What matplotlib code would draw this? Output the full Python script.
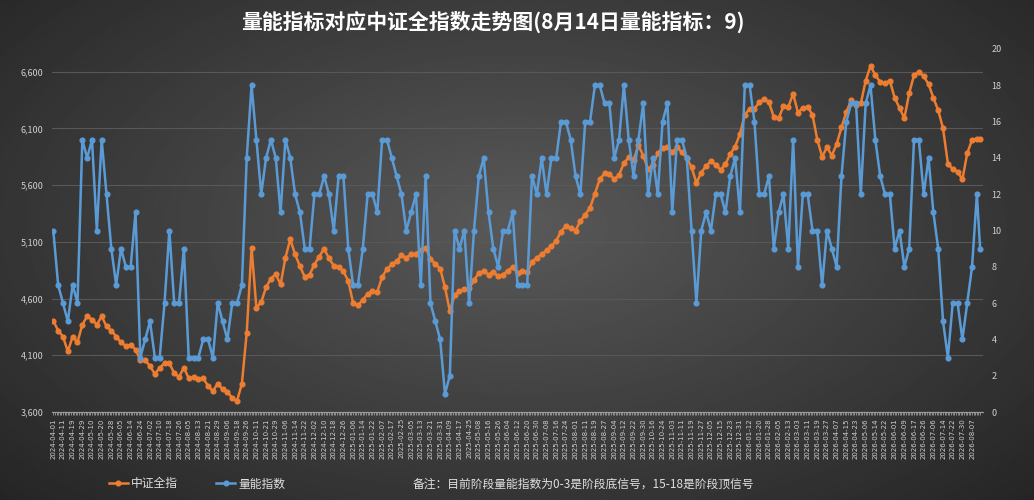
import numpy as np
import matplotlib
matplotlib.use("Agg")
import matplotlib.pyplot as plt
from matplotlib.lines import Line2D

plt.rcParams['font.family'] = ['Noto Sans CJK SC', 'DejaVu Sans']

# trading-day number of each reading (read every 3rd day, plus the last day)
day_no = list(range(0, 576, 3)) + [575]

# 中证全指 (left axis)
csi_all = [
    4405, 4317, 4265, 4134, 4265, 4215, 4370, 4444, 4415, 4370,
    4444, 4355, 4318, 4265, 4215, 4180, 4193, 4150, 4060, 4055,
    4005, 3935, 3990, 4030, 4030, 3942, 3910, 3990, 3898, 3905,
    3890, 3898, 3830, 3785, 3850, 3800, 3780, 3721, 3700, 3850,
    4300, 5048, 4517, 4570, 4700, 4775, 4815, 4724, 4960, 5122,
    4990, 4886, 4790, 4812, 4900, 4970, 5040, 4955, 4890, 4875,
    4842, 4753, 4562, 4540, 4590, 4640, 4665, 4660, 4790, 4860,
    4901, 4930, 4980, 4960, 4989, 4995, 5030, 5050, 4950, 4905,
    4865, 4700, 4488, 4635, 4665, 4680, 4690, 4760, 4827, 4842,
    4812, 4835, 4795, 4812, 4845, 4880, 4825, 4842, 4830, 4925,
    4960, 4990, 5025, 5060, 5110, 5190, 5240, 5225, 5200, 5284,
    5340, 5400, 5525, 5650, 5705, 5700, 5650, 5690, 5795, 5845,
    5820, 5950, 5860, 5740, 5780, 5880, 5930, 5933, 5890, 5933,
    5890, 5840, 5756, 5620, 5710, 5770, 5810, 5780, 5735, 5786,
    5875, 5940, 6051, 6220, 6273, 6273, 6330, 6360, 6330, 6200,
    6190, 6295, 6290, 6405, 6240, 6280, 6290, 6220, 6000, 5850,
    5935, 5860, 5963, 6110, 6245, 6347, 6310, 6320, 6520, 6650,
    6570, 6510, 6500, 6520, 6370, 6280, 6190, 6410, 6570, 6600,
    6560, 6490, 6370, 6260, 6100, 5790, 5740, 5720, 5650, 5880,
    6000, 6010,
    6007,
]

# 量能指数 (right axis)
volume_idx = [
    10, 7, 6, 5, 7, 6, 15, 14, 15, 10,
    15, 12, 9, 7, 9, 8, 8, 11, 3, 4,
    5, 3, 3, 6, 10, 6, 6, 9, 3, 3,
    3, 4, 4, 3, 6, 5, 4, 6, 6, 7,
    14, 18, 15, 12, 14, 15, 14, 11, 15, 14,
    12, 11, 9, 9, 12, 12, 13, 12, 10, 13,
    13, 9, 7, 7, 9, 12, 12, 11, 15, 15,
    14, 13, 12, 10, 11, 12, 7, 13, 6, 5,
    4, 1, 2, 10, 9, 10, 6, 10, 13, 14,
    11, 9, 8, 10, 10, 11, 7, 7, 7, 13,
    12, 14, 12, 14, 14, 16, 16, 15, 13, 12,
    16, 16, 18, 18, 17, 17, 14, 15, 18, 15,
    13, 15, 17, 12, 14, 12, 16, 17, 11, 15,
    15, 14, 10, 6, 10, 11, 10, 12, 12, 11,
    13, 14, 11, 18, 18, 16, 12, 12, 13, 9,
    11, 12, 9, 15, 8, 12, 12, 10, 10, 7,
    10, 9, 8, 13, 16, 17, 17, 12, 17, 18,
    15, 13, 12, 12, 9, 10, 8, 9, 15, 15,
    12, 14, 11, 9, 5, 3, 6, 6, 4, 6,
    8, 12,
    9,
]

# date labels, one every 6 trading days
x_labels = [
    '2024-04-01', '2024-04-11', '2024-04-19', '2024-04-29', '2024-05-10', '2024-05-20',
    '2024-05-28', '2024-06-05', '2024-06-14', '2024-06-24', '2024-07-02', '2024-07-10',
    '2024-07-18', '2024-07-26', '2024-08-05', '2024-08-13', '2024-08-21', '2024-08-29',
    '2024-09-06', '2024-09-18', '2024-09-26', '2024-10-11', '2024-10-21', '2024-10-29',
    '2024-11-06', '2024-11-14', '2024-11-22', '2024-12-02', '2024-12-10', '2024-12-18',
    '2024-12-26', '2025-01-06', '2025-01-14', '2025-01-22', '2025-02-07', '2025-02-17',
    '2025-02-25', '2025-03-05', '2025-03-13', '2025-03-21', '2025-03-31', '2025-04-09',
    '2025-04-17', '2025-04-25', '2025-05-08', '2025-05-16', '2025-05-26', '2025-06-04',
    '2025-06-12', '2025-06-20', '2025-06-30', '2025-07-08', '2025-07-16', '2025-07-24',
    '2025-08-01', '2025-08-11', '2025-08-19', '2025-08-27', '2025-09-04', '2025-09-12',
    '2025-09-22', '2025-09-30', '2025-10-16', '2025-10-24', '2025-11-03', '2025-11-11',
    '2025-11-19', '2025-11-27', '2025-12-05', '2025-12-15', '2025-12-23', '2025-12-31',
    '2026-01-12', '2026-01-20', '2026-01-28', '2026-02-05', '2026-02-13', '2026-03-03',
    '2026-03-11', '2026-03-19', '2026-03-27', '2026-04-07', '2026-04-15', '2026-04-23',
    '2026-05-06', '2026-05-14', '2026-05-22', '2026-06-01', '2026-06-09', '2026-06-17',
    '2026-06-26', '2026-07-06', '2026-07-14', '2026-07-22', '2026-07-30', '2026-08-07',
]

left_ticks = [3600, 4100, 4600, 5100, 5600, 6100, 6600]
right_ticks = [0, 2, 4, 6, 8, 10, 12, 14, 16, 18, 20]

title = '量能指标对应中证全指数走势图(8月14日量能指标：9)'
note = '备注：目前阶段量能指数为0-3是阶段底信号，15-18是阶段顶信号'

orange = '#ED7D31'
blue = '#5B9BD5'
txt = '#d0d0d0'

fig = plt.figure(figsize=(10.34, 5.0), dpi=100)

# dark radial background
bg = fig.add_axes([0, 0, 1, 1], zorder=-10)
yy, xx = np.mgrid[0:1:300j, 0:1:600j]
r = np.sqrt(((xx - 0.5) / 0.75) ** 2 + ((yy - 0.45) / 0.85) ** 2)
shade = np.clip(0.35 - 0.22 * r, 0.13, 0.4)
bg.imshow(shade, cmap='gray', vmin=0, vmax=1, aspect='auto', extent=[0, 1, 0, 1])
bg.axis('off')

ax = fig.add_axes([0.050, 0.176, 0.901, 0.726])
ax.set_facecolor('none')
ax2 = ax.twinx()

ax.plot(day_no, csi_all, color=orange, lw=1.8, marker='o', ms=3.4, zorder=3)
ax2.plot(day_no, volume_idx, color=blue, lw=1.8, marker='o', ms=3.4, zorder=3)

ax.set_xlim(-1, 577)
ax.set_ylim(3600, 6800)
ax2.set_ylim(0, 20)
ax.set_yticks(left_ticks)
ax.set_yticklabels([f'{v:,}' for v in left_ticks])
ax2.set_yticks(right_ticks)

ax.set_xticks(range(0, 6 * len(x_labels), 6))
ax.set_xticklabels(x_labels, rotation=90, fontsize=5, color=txt, family='DejaVu Sans')
ax.set_xticks(range(0, 576), minor=True)
ax.tick_params(axis='x', which='both', length=2.5, color='#9a9a9a', width=0.6, pad=2)

ax.tick_params(axis='y', length=0, labelsize=6.5, labelcolor=txt, pad=6)
ax2.tick_params(axis='y', length=0, labelsize=6.5, labelcolor=txt, pad=6)

ax.grid(axis='y', color='#585858', lw=0.8)
ax.set_axisbelow(True)
for a in (ax, ax2):
    for s in ('top', 'left', 'right'):
        a.spines[s].set_visible(False)
    a.spines['bottom'].set_color('#9a9a9a')

fig.text(0.477, 0.957, title, ha='center', va='center', fontsize=15,
         fontweight='bold', color='white')

handles = [Line2D([], [], color=orange, lw=1.8, marker='o', ms=3.4),
           Line2D([], [], color=blue, lw=1.8, marker='o', ms=3.4)]
fig.legend(handles, ['中证全指', '量能指数'], loc='center left',
           bbox_to_anchor=(0.095, 0.032), ncol=2, frameon=False, fontsize=8.5,
           labelcolor='#e0e0e0', handlelength=1.6, handletextpad=0.3,
           columnspacing=3.2)

fig.text(0.399, 0.032, note, ha='left', va='center', fontsize=8.5, color='#e0e0e0')

fig.savefig('out.png', dpi=100)
